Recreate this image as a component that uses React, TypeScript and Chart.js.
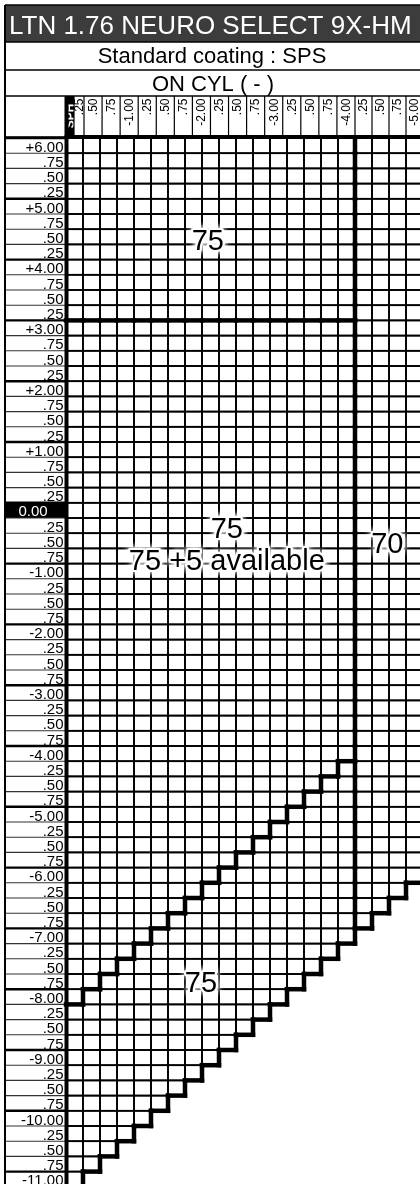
import React, { useEffect, useRef } from "react";
import { Chart, registerables } from "chart.js";

Chart.register(...registerables);

// ---------------- data ----------------
const TITLE = "LTN 1.76 NEURO SELECT 9X-HM";
const SUBTITLE = "Standard coating : SPS";
const CYL_HEADING = "ON CYL ( - )";
const SPH_HEADING = "SPH";

// column 0 is the sphere-only column (cyl 0.00, headed "SPH")
const CYL_VALUES = [
  0.0, -0.25, -0.5, -0.75, -1.0, -1.25, -1.5, -1.75, -2.0, -2.25, -2.5,
  -2.75, -3.0, -3.25, -3.5, -3.75, -4.0, -4.25, -4.5, -4.75, -5.0,
];
const CYL_LABELS = [
  "SPH", ".25", ".50", ".75", "-1.00", ".25", ".50", ".75", "-2.00", ".25", ".50",
  ".75", "-3.00", ".25", ".50", ".75", "-4.00", ".25", ".50", ".75", "-5.00",
];

const SPH_VALUES = [
  6.0, 5.75, 5.5, 5.25, 5.0, 4.75, 4.5, 4.25, 4.0, 3.75, 3.5, 3.25,
  3.0, 2.75, 2.5, 2.25, 2.0, 1.75, 1.5, 1.25, 1.0, 0.75, 0.5, 0.25,
  0.0, -0.25, -0.5, -0.75, -1.0, -1.25, -1.5, -1.75, -2.0, -2.25, -2.5, -2.75,
  -3.0, -3.25, -3.5, -3.75, -4.0, -4.25, -4.5, -4.75, -5.0, -5.25, -5.5, -5.75,
  -6.0, -6.25, -6.5, -6.75, -7.0, -7.25, -7.5, -7.75, -8.0, -8.25, -8.5, -8.75,
  -9.0, -9.25, -9.5, -9.75, -10.0, -10.25, -10.5, -10.75, -11.0,
];
const SPH_LABELS = [
  "+6.00", ".75", ".50", ".25", "+5.00", ".75", ".50", ".25", "+4.00", ".75", ".50", ".25",
  "+3.00", ".75", ".50", ".25", "+2.00", ".75", ".50", ".25", "+1.00", ".75", ".50", ".25",
  "0.00", ".25", ".50", ".75", "-1.00", ".25", ".50", ".75", "-2.00", ".25", ".50", ".75",
  "-3.00", ".25", ".50", ".75", "-4.00", ".25", ".50", ".75", "-5.00", ".25", ".50", ".75",
  "-6.00", ".25", ".50", ".75", "-7.00", ".25", ".50", ".75", "-8.00", ".25", ".50", ".75",
  "-9.00", ".25", ".50", ".75", "-10.00", ".25", ".50", ".75", "-11.00",
];

// availability zones (range of cyl, sph and sph+cyl), with their notes
const ZONE_NOTES = [["75"], ["75", "75 +5 available"], ["70"], ["75"]];
const ZONE_CYL_HIGH = [0.0, 0.0, -4.25, 0.0];
const ZONE_CYL_LOW = [-4.0, -4.0, -5.0, -4.0];
const ZONE_SPH_HIGH = [6.0, 3.0, 6.0, 3.0];
const ZONE_SPH_LOW = [3.25, -11.0, -11.0, -11.0];
const ZONE_SUM_HIGH = [99, 99, 99, -8.25];
const ZONE_SUM_LOW = [-99, -8.0, -11.0, -11.0];

// ---------------- layout ----------------
const W = 420;
const H = 1184;
const BORDER_X = 5;
const TOP_Y = 5;
const TITLE_BOTTOM = 42;
const SUB_BOTTOM = 70;
const CYLHEAD_BOTTOM = 96;
const GRID_LEFT = 66;
const GRID_TOP = 138;
const COL_W = 17;
const ROW_H = 15.2;
const STEP = 0.25;
const X_MAX = 0.125;
const X_MIN = X_MAX - (STEP * (W - GRID_LEFT)) / COL_W;
const Y_MAX = 6.125;
const Y_MIN = Y_MAX - (STEP * (H - GRID_TOP)) / ROW_H;
// anchor of each zone note line, in (cyl, sph) units
const NOTE_CYL = [[-1.96], [-2.24, -2.24], [-4.6], [-1.86]];
const NOTE_SPH = [[4.42], [-0.32], [-0.57], [-7.79]];
const NOTE_SPH2 = -0.85;
const FONT = '"Liberation Sans", Arial, Helvetica, sans-serif';

function zoneOf(s: number, c: number): number {
  for (let z = 0; z < ZONE_NOTES.length; z++) {
    const sum = s + c;
    if (
      c <= ZONE_CYL_HIGH[z] && c >= ZONE_CYL_LOW[z] &&
      s <= ZONE_SPH_HIGH[z] && s >= ZONE_SPH_LOW[z] &&
      sum <= ZONE_SUM_HIGH[z] && sum >= ZONE_SUM_LOW[z]
    ) return z;
  }
  return -1;
}

const tablePlugin = {
  id: "rxTable",
  afterDraw(chart: any) {
    const ctx: CanvasRenderingContext2D = chart.ctx;
    const xs = chart.scales.x;
    const ys = chart.scales.y;
    const colL = (k: number) => xs.getPixelForValue(CYL_VALUES[k] + STEP / 2);
    const colR = (k: number) => xs.getPixelForValue(CYL_VALUES[k] - STEP / 2);
    const rowT = (r: number) => ys.getPixelForValue(SPH_VALUES[r] + STEP / 2);
    const rowB = (r: number) => ys.getPixelForValue(SPH_VALUES[r] - STEP / 2);
    const nC = CYL_VALUES.length;
    const nR = SPH_VALUES.length;
    const line = (x1: number, y1: number, x2: number, y2: number, w: number, col = "#000") => {
      ctx.beginPath();
      ctx.lineWidth = w;
      ctx.strokeStyle = col;
      ctx.moveTo(x1, y1);
      ctx.lineTo(x2, y2);
      ctx.stroke();
    };

    ctx.save();
    ctx.fillStyle = "#fff";
    ctx.fillRect(0, 0, W, H);

    // title bar
    ctx.fillStyle = "#3c3c3c";
    ctx.fillRect(BORDER_X, TOP_Y, W - BORDER_X, TITLE_BOTTOM - TOP_Y);
    ctx.fillStyle = "#fff";
    ctx.font = `26px ${FONT}`;
    ctx.textAlign = "left";
    ctx.textBaseline = "alphabetic";
    ctx.fillText(TITLE, 9, 34);

    ctx.fillStyle = "#000";
    ctx.textAlign = "center";
    ctx.font = `22px ${FONT}`;
    ctx.fillText(SUBTITLE, 212, 63);
    ctx.font = `22px ${FONT}`;
    ctx.fillText(CYL_HEADING, 213, 91);

    line(BORDER_X, TOP_Y, W, TOP_Y, 1.5);
    line(BORDER_X, TITLE_BOTTOM, W, TITLE_BOTTOM, 1.5);
    line(BORDER_X, SUB_BOTTOM, W, SUB_BOTTOM, 1.3);
    line(BORDER_X, CYLHEAD_BOTTOM, W, CYLHEAD_BOTTOM, 1.3);

    // header columns
    const hL: number[] = [];
    const hR: number[] = [];
    const sphBoxR = GRID_LEFT + 8;
    const quarterR = GRID_LEFT + 18;
    hL[0] = GRID_LEFT; hR[0] = sphBoxR;
    hL[1] = sphBoxR; hR[1] = quarterR;
    const span = (colR(16) - quarterR) / 15;
    for (let k = 2; k <= 16; k++) {
      hL[k] = quarterR + (k - 2) * span;
      hR[k] = quarterR + (k - 1) * span;
    }
    for (let k = 17; k < nC; k++) { hL[k] = colL(k); hR[k] = colR(k); }

    ctx.fillStyle = "#000";
    ctx.fillRect(hL[0], CYLHEAD_BOTTOM, hR[0] - hL[0], GRID_TOP - CYLHEAD_BOTTOM);
    for (let k = 0; k < nC; k++) {
      if (k > 0) line(hL[k], CYLHEAD_BOTTOM, hL[k], GRID_TOP, 1.2);
      const cx = (hL[k] + hR[k]) / 2;
      ctx.save();
      ctx.translate(cx, k === 0 ? 116 : 98.5);
      ctx.rotate(-Math.PI / 2);
      ctx.textBaseline = "middle";
      if (k === 0) {
        ctx.font = `bold 12px ${FONT}`;
        ctx.fillStyle = "#fff";
        ctx.textAlign = "center";
        ctx.fillText(SPH_HEADING, 0, 0.5);
      } else {
        ctx.font = `12px ${FONT}`;
        ctx.fillStyle = "#000";
        ctx.textAlign = "right";
        ctx.fillText(CYL_LABELS[k], 0, 0.5);
      }
      ctx.restore();
    }

    // sphere label column
    for (let r = 0; r < nR; r++) {
      const t = rowT(r);
      const b = rowB(r);
      if (SPH_VALUES[r] === 0) {
        ctx.fillStyle = "#000";
        ctx.fillRect(BORDER_X, t, GRID_LEFT - BORDER_X, b - t);
      }
      const whole = Number.isInteger(SPH_VALUES[r]);
      line(BORDER_X, t, GRID_LEFT, t, whole ? 2.4 : 1.1, whole ? "#000" : "#333");
      ctx.font = `15px ${FONT}`;
      ctx.textBaseline = "alphabetic";
      if (SPH_VALUES[r] === 0) {
        ctx.fillStyle = "#fff";
        ctx.textAlign = "center";
        ctx.fillText(SPH_LABELS[r], 33, b - 2);
      } else {
        ctx.fillStyle = "#000";
        ctx.textAlign = "right";
        ctx.fillText(SPH_LABELS[r], GRID_LEFT - 2.5, b - 1.5);
      }
    }

    // zone grid
    const zones: number[][] = [];
    for (let r = 0; r < nR; r++) {
      zones[r] = [];
      for (let k = 0; k < nC; k++) zones[r][k] = zoneOf(SPH_VALUES[r], CYL_VALUES[k]);
    }
    ctx.lineWidth = 1.7;
    ctx.strokeStyle = "#000";
    for (let r = 0; r < nR; r++) {
      for (let k = 0; k < nC; k++) {
        if (zones[r][k] < 0) continue;
        ctx.strokeRect(colL(k), rowT(r), colR(k) - colL(k), rowB(r) - rowT(r));
      }
    }

    // zone boundaries
    ctx.lineCap = "square";
    for (let r = 0; r < nR; r++) {
      for (let k = 0; k < nC; k++) {
        const z = zones[r][k];
        if (k + 1 < nC) {
          const zr = zones[r][k + 1];
          if (z !== zr) line(colR(k), rowT(r), colR(k), rowB(r), 4.5);
        }
        if (r + 1 < nR) {
          const zb = zones[r + 1][k];
          if (z !== zb) line(colL(k), rowB(r), colR(k), rowB(r), 4.5);
        }
      }
    }
    ctx.lineCap = "butt";
    line(GRID_LEFT + 0.5, CYLHEAD_BOTTOM, GRID_LEFT + 0.5, H, 4);
    line(GRID_LEFT - 1.5, GRID_TOP - 1, W, GRID_TOP - 1, 4);
    line(BORDER_X, GRID_TOP - 1, GRID_LEFT, GRID_TOP - 1, 1.5);
    line(BORDER_X, TOP_Y, BORDER_X, H, 2);

    // zone notes
    ctx.font = `29px ${FONT}`;
    ctx.textAlign = "center";
    ctx.textBaseline = "middle";
    for (let z = 0; z < ZONE_NOTES.length; z++) {
      ZONE_NOTES[z].forEach((txt, i) => {
        const cy = NOTE_CYL[z][i];
        const sy = i === 0 ? NOTE_SPH[z][0] : NOTE_SPH2;
        const px = xs.getPixelForValue(cy);
        const py = ys.getPixelForValue(sy);
        ctx.save();
        ctx.shadowColor = "#fff";
        ctx.shadowBlur = 6;
        ctx.strokeStyle = "#fff";
        ctx.lineWidth = 4;
        ctx.lineJoin = "round";
        ctx.strokeText(txt, px, py);
        ctx.strokeText(txt, px, py);
        ctx.restore();
        ctx.fillStyle = "#000";
        ctx.fillText(txt, px, py);
      });
    }
    ctx.restore();
  },
};

export default function App() {
  const ref = useRef<HTMLCanvasElement | null>(null);
  useEffect(() => {
    if (!ref.current) return;
    document.body.style.overflow = "hidden";
    const cells: { x: number; y: number }[] = [];
    SPH_VALUES.forEach((s) => CYL_VALUES.forEach((c) => {
      if (zoneOf(s, c) >= 0) cells.push({ x: c, y: s });
    }));
    const chart = new Chart(ref.current, {
      type: "scatter",
      data: { datasets: [{ data: cells, pointRadius: 0, pointHoverRadius: 0 }] },
      options: {
        responsive: false,
        animation: false,
        events: [],
        layout: { padding: { left: GRID_LEFT, top: GRID_TOP, right: 0, bottom: 0 } },
        scales: {
          x: { type: "linear", reverse: true, min: X_MIN, max: X_MAX, display: false },
          y: { type: "linear", min: Y_MIN, max: Y_MAX, display: false },
        },
        plugins: { legend: { display: false }, tooltip: { enabled: false } },
      },
      plugins: [tablePlugin],
    });
    return () => chart.destroy();
  }, []);
  return (
    <div style={{ position: "absolute", left: 0, top: 0, width: W, height: H }}>
      <canvas ref={ref} width={W} height={H} style={{ display: "block" }} />
    </div>
  );
}
